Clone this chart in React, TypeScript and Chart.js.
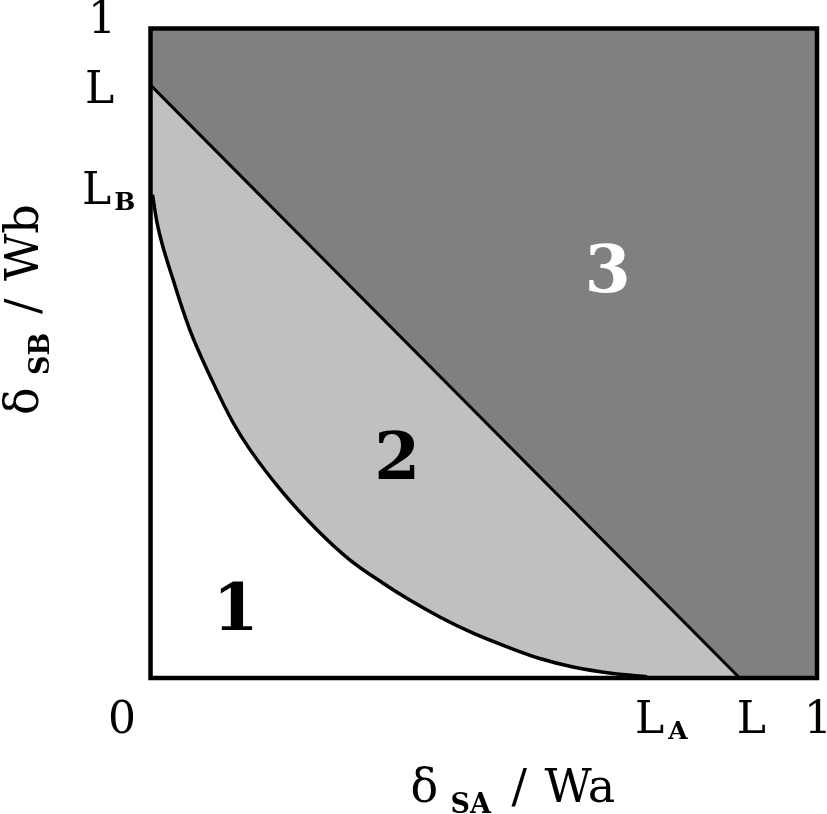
import React, { useEffect, useRef } from "react";
import { Chart, registerables } from "chart.js";

Chart.register(...registerables);

// Boundary curve between region 1 and region 2 (δSA/Wa, δSB/Wb)
const curveX = [0.003, 0.01, 0.034, 0.059, 0.092, 0.124, 0.149, 0.199, 0.25, 0.299, 0.349, 0.389, 0.434, 0.484, 0.535, 0.584, 0.634, 0.694, 0.745];
const curveY = [0.744, 0.7, 0.613, 0.536, 0.459, 0.393, 0.352, 0.285, 0.228, 0.182, 0.146, 0.12, 0.094, 0.069, 0.048, 0.03, 0.017, 0.007, 0.002];

// Straight boundary between region 2 and region 3
const lineX = [0, 0.884];
const lineY = [0.913, 0];

// Upper edge of region 3
const topX = [0, 1];
const topY = [1, 1];

// Region labels
const regionText = ["1", "2", "3"];
const regionX = [0.128, 0.37, 0.686];
const regionY = [0.111, 0.343, 0.631];

// Tick labels
const xTickValues = [0, 0.745, 0.884, 1];
const xTickMain = ["0", "L", "L", "1"];
const xTickSub = ["", "A", "", ""];
const yTickValues = [1, 0.913, 0.744];
const yTickMain = ["1", "L", "L"];
const yTickSub = ["", "", "B"];

const FONT = '"DejaVu Serif", "Liberation Serif", serif';

const annotationPlugin = {
  id: "annotations",
  afterDraw(chart: any) {
    const ctx = chart.ctx;
    const xs = chart.scales.x;
    const ys = chart.scales.y;
    const area = chart.chartArea;
    ctx.save();

    // plot frame
    ctx.strokeStyle = "#000";
    ctx.lineWidth = 4.5;
    ctx.strokeRect(area.left, area.top, area.right - area.left, area.bottom - area.top);

    // region labels
    ctx.textAlign = "center";
    ctx.textBaseline = "alphabetic";
    ctx.font = `bold 66px ${FONT}`;
    regionText.forEach((t, i) => {
      ctx.fillStyle = i === 2 ? "#ffffff" : "#000000";
      ctx.fillText(t, xs.getPixelForValue(regionX[i]), ys.getPixelForValue(regionY[i]) + 24);
    });

    // x tick labels
    ctx.fillStyle = "#000";
    ctx.textAlign = "left";
    const xDx = [-42.5, -12, -3, -13];
    xTickValues.forEach((v, i) => {
      const px = xs.getPixelForValue(v) + xDx[i];
      const base = area.bottom + 55;
      ctx.font = `44px ${FONT}`;
      ctx.fillText(xTickMain[i], px, base);
      if (xTickSub[i]) {
        const w = ctx.measureText(xTickMain[i]).width;
        ctx.font = `bold 25px ${FONT}`;
        ctx.fillText(xTickSub[i], px + w + 4, base + 6);
      }
    });

    // y tick labels
    const yX = [-62.5, -65.5, -68.5];
    const yDy = [4.5, 18, 9];
    yTickValues.forEach((v, i) => {
      const px = area.left + yX[i];
      const base = ys.getPixelForValue(v) + yDy[i];
      ctx.font = `44px ${FONT}`;
      ctx.fillText(yTickMain[i], px, base);
      if (yTickSub[i]) {
        const w = ctx.measureText(yTickMain[i]).width;
        ctx.font = `bold 25px ${FONT}`;
        ctx.fillText(yTickSub[i], px + w + 3, base + 6);
      }
    });

    // axis titles
    const drawTitle = (sub: string, tail: string) => {
      ctx.font = `46px ${FONT}`;
      ctx.fillText("δ", 0, 0);
      ctx.font = `bold 27px ${FONT}`;
      ctx.fillText(sub, 40, 11);
      ctx.font = `46px ${FONT}`;
      ctx.fillText("/", 101, 0);
      ctx.fillText(tail, 134, 0);
    };
    ctx.save();
    ctx.translate(area.left + 260, area.bottom + 124);
    drawTitle("SA", "Wa");
    ctx.restore();

    ctx.save();
    ctx.translate(38, area.bottom - 263);
    ctx.rotate(-Math.PI / 2);
    drawTitle("SB", "Wb");
    ctx.restore();

    ctx.restore();
  },
};

export default function App() {
  const ref = useRef<HTMLCanvasElement | null>(null);
  useEffect(() => {
    if (!ref.current) return;
    const chart = new Chart(ref.current, {
      type: "scatter",
      data: {
        datasets: [
          {
            label: "region 3",
            data: topX.map((x, i) => ({ x, y: topY[i] })),
            showLine: true,
            fill: "origin",
            backgroundColor: "#808080",
            borderWidth: 0,
            pointRadius: 0,
            order: 3,
          },
          {
            label: "region 2",
            data: lineX.map((x, i) => ({ x, y: lineY[i] })),
            showLine: true,
            fill: "origin",
            backgroundColor: "#c0c0c0",
            borderColor: "#000",
            borderWidth: 3,
            pointRadius: 0,
            order: 2,
          },
          {
            label: "region 1",
            data: curveX.map((x, i) => ({ x, y: curveY[i] })),
            showLine: true,
            fill: "origin",
            backgroundColor: "#ffffff",
            borderColor: "#000",
            borderWidth: 3.5,
            pointRadius: 0,
            cubicInterpolationMode: "monotone",
            order: 1,
          },
        ],
      },
      options: {
        animation: false,
        responsive: false,
        layout: { padding: { left: 150.5, top: 28.5, right: 10, bottom: 136 } },
        plugins: { legend: { display: false }, tooltip: { enabled: false } },
        scales: {
          x: { type: "linear", min: 0, max: 1, display: false },
          y: { type: "linear", min: 0, max: 1, display: false },
        },
      },
      plugins: [annotationPlugin],
    });
    return () => chart.destroy();
  }, []);
  return (
    <div style={{ position: "fixed", left: 0, top: 0, width: 827, height: 814, background: "#fff" }}>
      <canvas ref={ref} width={827} height={814} style={{ display: "block" }} />
    </div>
  );
}
